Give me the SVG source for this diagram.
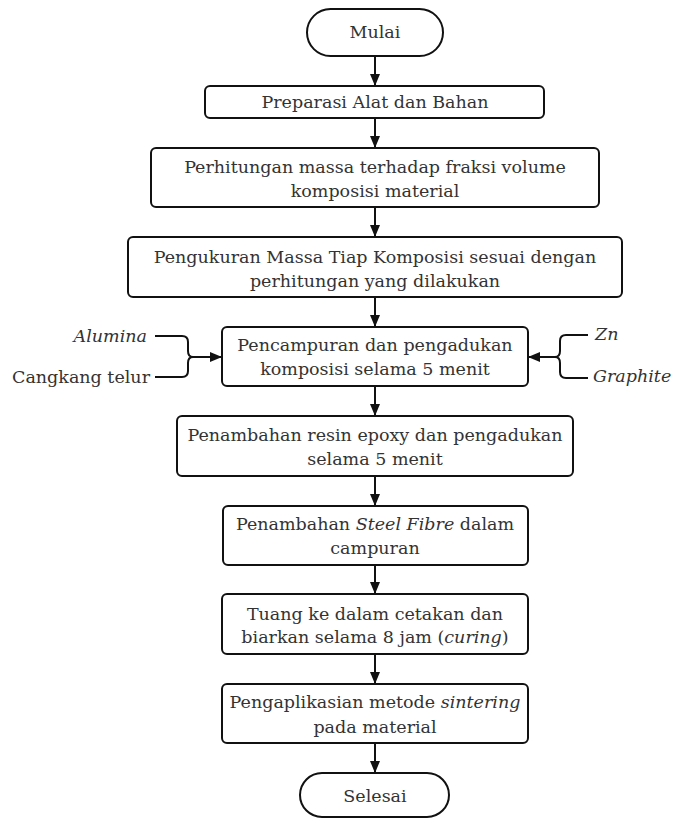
<svg xmlns="http://www.w3.org/2000/svg" width="678" height="819" viewBox="0 0 678 819">
<defs>
<marker id="arr" markerUnits="userSpaceOnUse" markerWidth="12" markerHeight="12" viewBox="0 0 12 10" refX="12" refY="5" orient="auto">
<path d="M0,0 L12,5 L0,10 Z" fill="#111"/>
</marker>
</defs>
<style>
.box{fill:#fff;stroke:#111;stroke-width:2}
.t{font-family:"DejaVu Serif","Liberation Serif",serif;font-size:17.5px;fill:#333;text-anchor:middle}
.l{font-family:"DejaVu Serif","Liberation Serif",serif;font-size:17.5px;fill:#333}
.i{font-style:italic}
.c{fill:none;stroke:#111;stroke-width:2}
</style>
<rect width="678" height="819" fill="#fff"/>
<g id="connectors">
<line class="c" x1="375" y1="56" x2="375" y2="86" marker-end="url(#arr)"/>
<line class="c" x1="375" y1="118" x2="375" y2="148" marker-end="url(#arr)"/>
<line class="c" x1="375" y1="207" x2="375" y2="237" marker-end="url(#arr)"/>
<line class="c" x1="375" y1="297" x2="375" y2="327" marker-end="url(#arr)"/>
<line class="c" x1="375" y1="386" x2="375" y2="416" marker-end="url(#arr)"/>
<line class="c" x1="375" y1="476" x2="375" y2="506" marker-end="url(#arr)"/>
<line class="c" x1="375" y1="565" x2="375" y2="594" marker-end="url(#arr)"/>
<line class="c" x1="375" y1="654" x2="375" y2="684" marker-end="url(#arr)"/>
<line class="c" x1="375" y1="743" x2="375" y2="773" marker-end="url(#arr)"/>
<path class="c" d="M155,336 H182 Q188,336 188,342 V351 Q188,357 193,357 Q188,357 188,363 V371 Q188,377 182,377 H155"/>
<line class="c" x1="193" y1="357" x2="222" y2="357" marker-end="url(#arr)"/>
<path class="c" d="M588,335 H566 Q560,335 560,341 V351 Q560,357 555,357 Q560,357 560,363 V372 Q560,378 566,378 H588"/>
<line class="c" x1="555" y1="357" x2="528" y2="357" marker-end="url(#arr)"/>
</g>
<g id="mulai"><rect class="box" x="307" y="9" width="136" height="47" rx="23.5"/><text class="t" x="375" y="38">Mulai</text></g>
<g id="preparasi"><rect class="box" x="205" y="86" width="339" height="32" rx="5"/><text class="t" x="375" y="108">Preparasi Alat dan Bahan</text></g>
<g id="perhitungan"><rect class="box" x="151" y="148" width="448" height="59" rx="5"/><text class="t" x="375" y="173">Perhitungan massa terhadap fraksi volume</text><text class="t" x="375" y="197">komposisi material</text></g>
<g id="pengukuran"><rect class="box" x="128" y="237" width="494" height="60" rx="5"/><text class="t" x="375" y="263">Pengukuran Massa Tiap Komposisi sesuai dengan</text><text class="t" x="375" y="287">perhitungan yang dilakukan</text></g>
<g id="pencampuran"><rect class="box" x="222" y="327" width="306" height="59" rx="5"/><text class="t" x="375" y="351">Pencampuran dan pengadukan</text><text class="t" x="375" y="375">komposisi selama 5 menit</text></g>
<g id="alumina"><text class="l i" x="147" y="342" text-anchor="end">Alumina</text></g>
<g id="cangkang"><text class="l" x="150" y="383" text-anchor="end">Cangkang telur</text></g>
<g id="zn"><text class="l i" x="595" y="340">Zn</text></g>
<g id="graphite"><text class="l i" x="593" y="382">Graphite</text></g>
<g id="resin"><rect class="box" x="177" y="416" width="396" height="60" rx="5"/><text class="t" x="375" y="441">Penambahan resin epoxy dan pengadukan</text><text class="t" x="375" y="465">selama 5 menit</text></g>
<g id="steel"><rect class="box" x="223" y="506" width="305" height="59" rx="5"/><text class="t" x="375" y="530">Penambahan <tspan class="i">Steel Fibre</tspan> dalam</text><text class="t" x="375" y="554">campuran</text></g>
<g id="tuang"><rect class="box" x="222" y="594" width="306" height="60" rx="5"/><text class="t" x="375" y="620">Tuang ke dalam cetakan dan</text><text class="t" x="375" y="643">biarkan selama 8 jam (<tspan class="i">curing</tspan>)</text></g>
<g id="sintering"><rect class="box" x="222" y="684" width="306" height="59" rx="5"/><text class="t" x="375" y="708">Pengaplikasian metode <tspan class="i">sintering</tspan></text><text class="t" x="375" y="733">pada material</text></g>
<g id="selesai"><rect class="box" x="300" y="773" width="149" height="44" rx="22"/><text class="t" x="375" y="802">Selesai</text></g>
</svg>
